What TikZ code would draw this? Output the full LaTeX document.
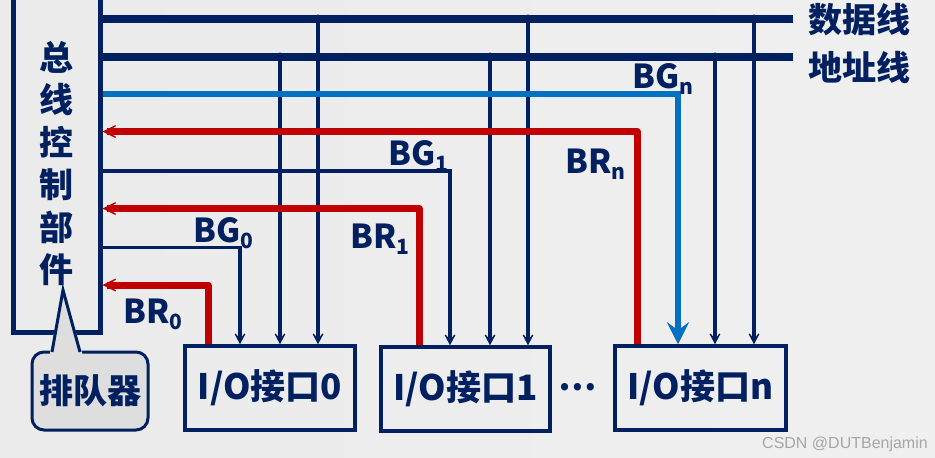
\documentclass[tikz,border=0pt]{standalone}
\usepackage{fontspec}
\setmainfont{Noto Sans CJK SC}[BoldFont={Noto Sans CJK SC Black}]
\newfontfamily\wmfont{Liberation Sans}
\usetikzlibrary{calc,arrows.meta}
\definecolor{navy}{HTML}{002060}
\definecolor{reqred}{HTML}{C00000}
\definecolor{grblue}{HTML}{0070C0}
\newcommand\lowidx[1]{\raisebox{-6pt}{\fontsize{21}{21}\selectfont #1}}
\tikzset{
  bus/.style={line width=8pt, draw=navy},
  tap/.style={line width=3.5pt, draw=navy, -{Stealth[length=17pt,width=18pt,inset=12pt]}},
  grant/.style={line width=3.5pt, draw=navy, line join=miter, -{Stealth[length=17pt,width=18pt,inset=12pt]}},
  grantn/.style={line width=6pt, draw=grblue, line join=miter, -{Stealth[length=22pt,width=22pt,inset=8pt]}},
  request/.style={line width=7pt, draw=reqred, line join=round, -{Stealth[length=24pt,width=24pt,inset=19pt]}},
  ctrlbox/.style={draw=navy, line width=5pt, minimum width=87pt, minimum height=338pt, align=center,
    font=\fontsize{34}{42.5}\selectfont\bfseries, text=navy},
  unit/.style={draw=navy, line width=3.5pt, minimum height=84pt, inner sep=0pt,
    font=\fontsize{35}{35}\selectfont\bfseries, text=navy},
  siglabel/.style={inner sep=0pt, font=\fontsize{33}{33}\selectfont\bfseries, text=navy},
  buslabel/.style={inner sep=0pt, anchor=west, font=\fontsize{34}{34}\selectfont\bfseries, text=navy},
  callout/.style={draw=navy, line width=3pt, fill=black!13},
}
\begin{document}
\begin{tikzpicture}[x=1pt, y=-1pt]
  \useasboundingbox (0,0) rectangle (935,458);
  \shade[left color=black!8, middle color=black!2, right color=black!6] (0,0) rectangle (935,458);
  % Bussteuerung und Schnittstellen
  \node[ctrlbox] (ctrl) at (56.5,163.5) {总\\线\\控\\制\\部\\件};
  \node[unit, minimum width=170pt] (io0) at (270,388) {I/O接口0};
  \node[unit, minimum width=169pt] (io1) at (465.5,389) {I/O接口1};
  \node[unit, minimum width=171pt] (ion) at (700.5,388) {I/O接口n};
  \node[text=navy, font=\fontsize{34}{34}\selectfont\bfseries] (dots) at (578,387) {⋯};
  % Datenbus, Adressbus
  \coordinate (dend) at (793,19);
  \coordinate (aend) at (793,57);
  \draw[bus] (ctrl.east |- dend) -- (dend);
  \draw[bus] (ctrl.east |- aend) -- (aend);
  \node[buslabel] (dlab) at (808,20) {数据线};
  \node[buslabel] (alab) at (808,68) {地址线};
  \foreach \x/\y/\b in {318/19/io0, 280/57/io0, 528/19/io1, 490/57/io1, 754/19/ion, 715/57/ion}{
    \fill[navy] (\x,\y) circle (4.5pt);
    \draw[tap] (\x,\y) -- (\x,0 |- \b.north);
  }
  % Anforderung BR und Freigabe BG
  \draw[grant] (ctrl.east |- 0,247.5) -| (240,0 |- io0.north);
  \draw[grant] (ctrl.east |- 0,171) -| (450,0 |- io1.north);
  \draw[grantn] (ctrl.east |- 0,94) -| (678,0 |- ion.north);
  \draw[request] (208,0 |- io0.north) |- (ctrl.east |- 0,285);
  \draw[request] (419,0 |- io1.north) |- (ctrl.east |- 0,208.5);
  \draw[request] (637,0 |- ion.north) |- (ctrl.east |- 0,131.5);
  \node[siglabel, anchor=base west] (bg0) at (193,242) {BG\lowidx{0}};
  \node[siglabel, anchor=base west] (br0) at (123,323) {BR\lowidx{0}};
  \node[siglabel, anchor=base west] (bg1) at (388,165) {BG\lowidx{1}};
  \node[siglabel, anchor=base west] (br1) at (350,248) {BR\lowidx{1}};
  \node[siglabel, anchor=base west] (bgn) at (632,88) {BG\lowidx{n}};
  \node[siglabel, anchor=base west] (brn) at (565,173) {BR\lowidx{n}};
  % Warteschlange
  \node[callout, rounded corners=12pt, minimum width=116pt, minimum height=78pt,
    text=navy, font=\fontsize{34}{34}\selectfont\bfseries] (queue) at (90,391) {排队器};
  \coordinate (qtip) at (63,290);
  \fill[black!13] (50,354) -- (50,352) -- (qtip) -- (82,352) -- (82,354) -- cycle;
  \draw[navy, line width=3pt, line join=miter] (52,352) -- (qtip) -- (80,352);
  \node[text=black!35, font=\wmfont\fontsize{16}{16}\selectfont] (wm) at (845,444) {CSDN @DUTBenjamin};
\end{tikzpicture}
\end{document}
